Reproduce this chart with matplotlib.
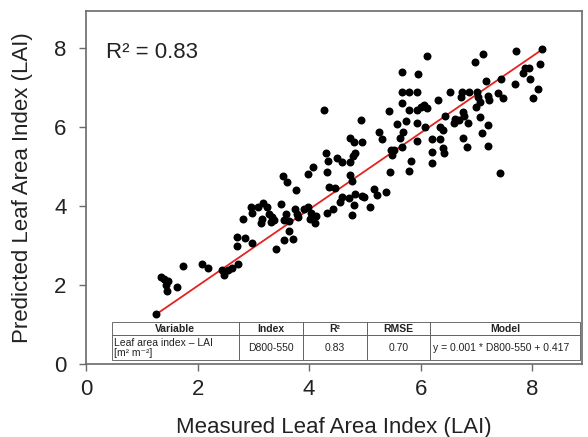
import matplotlib
matplotlib.use("Agg")
import matplotlib.pyplot as plt

plt.rcParams['font.family'] = ['Liberation Sans', 'DejaVu Sans']

# values
measured = [1.26, 1.35, 1.39, 1.47, 1.43, 1.46, 1.63, 1.74, 2.08, 2.18,
            2.43, 2.48, 2.54, 2.62, 2.72, 2.71, 2.71, 2.82, 2.85, 2.98,
            2.95, 2.98, 3.08, 3.18, 3.25, 3.16, 3.13, 3.28, 3.34, 3.31,
            3.37, 3.49, 3.53, 3.61, 3.77, 3.58, 3.55, 3.64, 3.74, 3.79,
            3.80, 3.90, 3.98, 4.03, 4.01, 4.13, 4.11, 3.64, 3.55, 3.71,
            3.40, 3.98, 4.07, 4.31, 4.32, 4.34, 4.32, 4.35, 4.26, 4.47,
            4.50, 4.58, 4.73, 4.73, 4.80, 4.94, 4.82, 4.79, 4.92, 4.74,
            4.76, 4.43, 4.59, 4.56, 4.71, 4.82, 4.80, 4.76, 4.95, 4.99,
            5.09, 5.16, 5.21, 5.37, 5.25, 5.30, 5.43, 5.44, 5.46, 5.52,
            5.48, 5.57, 5.67, 5.67, 5.79, 5.94, 5.79, 5.94, 5.73, 5.93,
            5.69, 5.63, 5.94, 5.66, 5.82, 5.79, 5.67, 5.95, 6.11, 6.00,
            6.06, 6.12, 6.07, 6.21, 6.34, 6.21, 6.20, 6.31, 6.35, 6.39,
            6.39, 6.42, 6.43, 6.53, 6.60, 6.62, 6.69, 6.74, 6.73, 6.75,
            6.75, 6.78, 6.82, 6.84, 6.87, 6.97, 7.01, 7.02, 6.99, 7.06,
            7.06, 7.11, 7.17, 7.21, 7.23, 7.20, 7.10, 7.20,
            7.44, 7.38, 7.48, 7.42,
            7.71, 7.69, 7.83, 7.87, 7.94, 7.96, 8.02, 8.10, 8.14, 8.18]

predicted = [1.26, 2.21, 2.14, 2.11, 1.99, 1.85, 1.95, 2.48, 2.52, 2.42,
             2.38, 2.25, 2.38, 2.44, 2.53, 2.98, 3.22, 3.66, 3.20, 3.05,
             3.98, 3.81, 3.98, 4.08, 3.96, 3.68, 3.57, 3.79, 3.73, 3.60,
             3.64, 4.05, 4.75, 4.60, 4.40, 3.79, 3.64, 3.62, 3.91, 3.79,
             3.71, 3.91, 3.96, 3.83, 3.68, 3.75, 3.56, 3.36, 3.14, 3.15,
             2.90, 4.80, 4.99, 5.33, 4.86, 5.13, 3.81, 4.48, 6.42, 4.46,
             5.20, 5.12, 5.12, 5.71, 5.62, 5.62, 5.34, 5.26, 6.17, 4.78,
             4.64, 3.91, 4.22, 4.10, 4.19, 4.30, 4.02, 3.77, 4.25, 4.22,
             3.98, 4.44, 4.27, 4.36, 5.88, 5.68, 6.41, 4.86, 5.41, 5.41,
             5.29, 6.07, 6.89, 6.61, 6.89, 6.89, 6.42, 6.42, 6.15, 6.09,
             5.88, 5.71, 5.65, 5.48, 5.13, 4.89, 7.38, 7.33, 7.80, 6.51,
             6.55, 6.47, 5.99, 5.68, 5.68, 5.37, 5.08, 6.69, 5.99, 5.92,
             5.46, 5.34, 6.27, 6.87, 6.09, 6.21, 6.17, 6.87, 6.75, 6.38,
             5.71, 6.27, 5.48, 6.09, 6.87, 7.65, 6.89, 6.75, 6.51, 6.63,
             6.24, 7.84, 7.17, 6.77, 6.68, 6.04, 5.85, 5.51,
             7.21, 6.86, 6.74, 4.82,
             7.92, 7.08, 7.37, 7.50, 7.48, 7.20, 6.72, 6.95, 7.60, 7.96]

# red fit line end points
fit_x = [1.26, 8.18]
fit_y = [1.26, 7.96]

x_ticks = [0, 2, 4, 6, 8]
y_ticks = [0, 2, 4, 6, 8]

r2_label = 'R\u00b2 = 0.83'
table_cols = ['Variable', 'Index', 'R\u00b2', 'RMSE', 'Model']
table_row = ['Leaf area index \u2013 LAI\n[m\u00b2 m\u207b\u00b2]', 'D800-550',
             '0.83', '0.70', 'y = 0.001 * D800-550 + 0.417']

frame_col = '#6a6a6a'
text_col = '#222222'

fig = plt.figure(figsize=(5.88, 4.37), dpi=100)
ax = fig.add_axes([0.1463, 0.167, 0.8435, 0.8078])

ax.scatter(measured, predicted, s=33, c='black', linewidths=0, zorder=3)
ax.plot(fit_x, fit_y, color='#e3231f', lw=1.3, zorder=2)

ax.set_xlim(0, 8.89)
ax.set_ylim(0, 8.93)
ax.set_xticks(x_ticks)
ax.set_yticks(y_ticks)

for s in ax.spines.values():
    s.set_color(frame_col)
    s.set_linewidth(1.2)
ax.tick_params(direction='out', length=5, width=1, color=frame_col,
               labelsize=16, labelcolor=text_col)
ax.tick_params(axis='x', pad=6)
ax.tick_params(axis='y', pad=9)

ax.set_xlabel('Measured Leaf Area Index (LAI)', fontsize=16, color=text_col, labelpad=12)
ax.set_ylabel('Predicted Leaf Area Index (LAI)', fontsize=16, color=text_col, labelpad=15)

ax.text(0.36, 7.89, r2_label, fontsize=16, color=text_col, ha='left', va='center')

tab = ax.table(cellText=[table_row], colLabels=table_cols,
               colWidths=[127, 64, 64, 63, 150], cellLoc='center',
               bbox=[0.052, 0.011, 0.944, 0.108], zorder=5)
tab.auto_set_font_size(False)
tab.set_fontsize(7.5)
for (r, c), cell in tab.get_celld().items():
    cell.set_edgecolor('#555555')
    cell.set_linewidth(0.6)
    cell.set_facecolor('white')
    cell.set_height(13 if r == 0 else 25)
    cell.get_text().set_color(text_col)
    if r == 0:
        cell.get_text().set_fontweight('bold')
    elif c in (0, 4):
        cell._loc = 'left'
        cell.PAD = 0.02
        cell.get_text().set_ha('left')
        cell.get_text().set_linespacing(1.0)

fig.savefig('out.png', dpi=100)
